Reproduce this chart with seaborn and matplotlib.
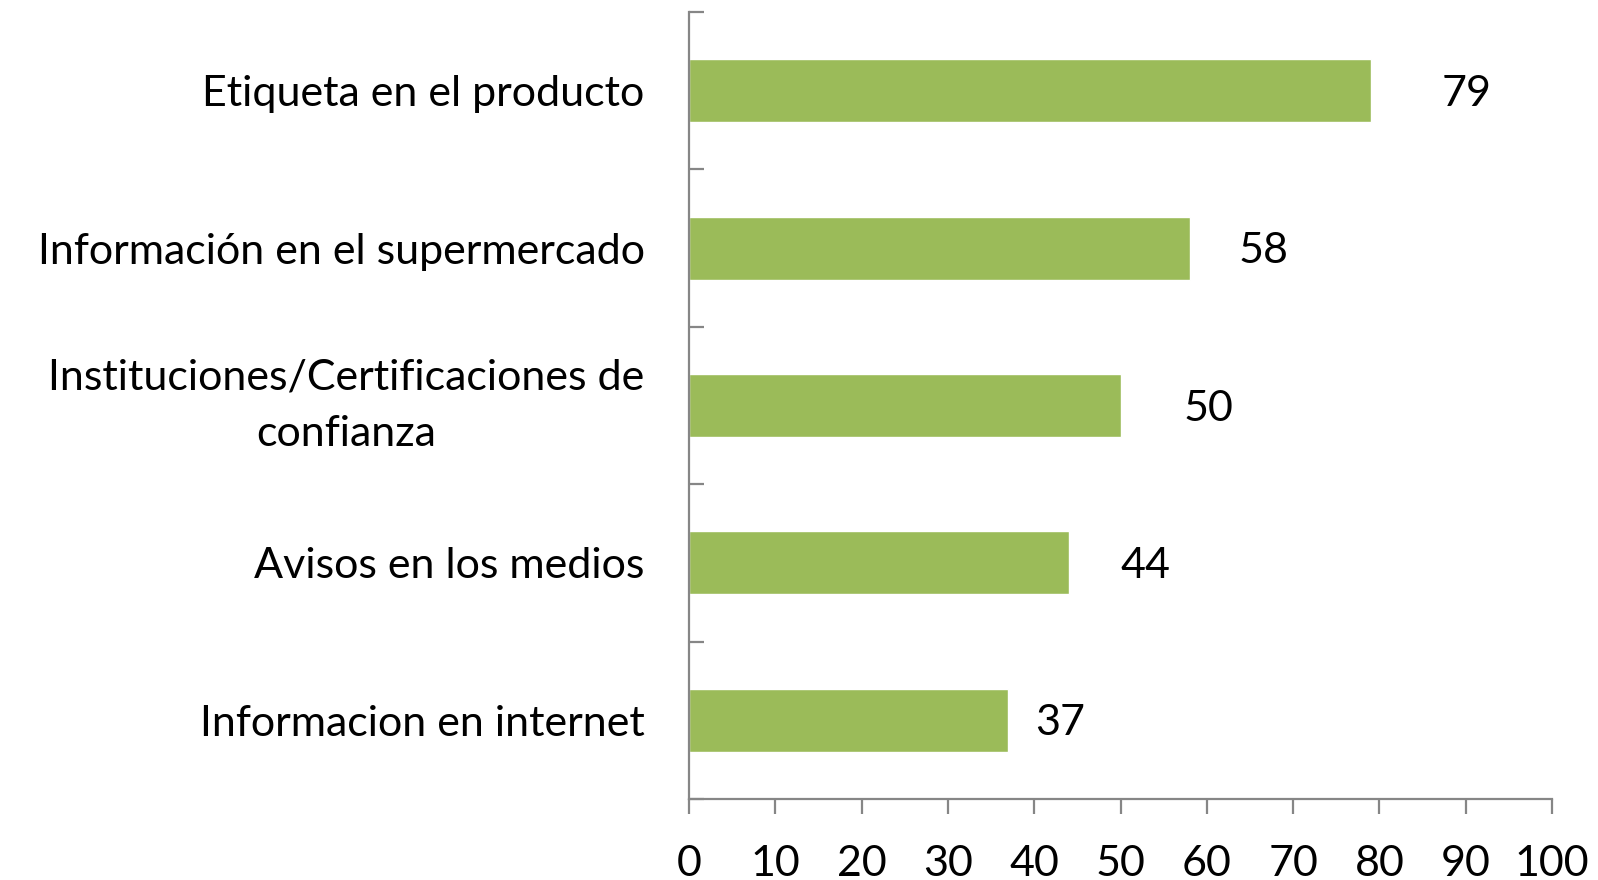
import matplotlib
matplotlib.use("Agg")
import matplotlib.pyplot as plt
import seaborn as sns
import pandas as pd
import numpy as np

categories = ["Etiqueta en el producto", "Información en el supermercado",
              "Instituciones/Certificaciones de\nconfianza", "Avisos en los medios",
              "Informacion en internet"]
values = [79, 58, 50, 44, 37]
label_offsets = [11.1, 8.6, 10.2, 8.9, 6.0]
xticks = [0, 10, 20, 30, 40, 50, 60, 70, 80, 90, 100]

sns.set_theme(style="white")
plt.rcParams['font.family'] = ['Lato', 'DejaVu Sans']
plt.rcParams['text.color'] = 'black'
plt.rcParams['xtick.color'] = 'black'
plt.rcParams['ytick.color'] = 'black'

fig = plt.figure(figsize=(15.98, 8.80), dpi=100)
ax = fig.add_axes([689/1598, 1-799/880, (1552-689)/1598, (799-12)/880])

df = pd.DataFrame({"cat": categories, "val": values})
sns.barplot(data=df, x="val", y="cat", orient="h", width=0.4, color="#9BBB59",
            saturation=1, ax=ax)

ax.set_xlim(0, 100)
ax.set_ylim(len(categories) - 0.5, -0.5)
ax.set_xlabel("")
ax.set_ylabel("")

for i, (v, off) in enumerate(zip(values, label_offsets)):
    ax.text(v + off, i + 0.02, str(v), ha="center", va="center", fontsize=31, color="black")

grey = "#868686"
for s in ["top", "right"]:
    ax.spines[s].set_visible(False)
for s in ["left", "bottom"]:
    ax.spines[s].set_color(grey)
    ax.spines[s].set_linewidth(1.6)

ax.set_xticks(xticks)
ax.set_xticklabels([str(t) for t in xticks], fontsize=31)
ax.tick_params(axis="x", direction="out", length=11, width=1.6, color=grey, pad=22,
               bottom=True, labelcolor="black")

ax.set_yticks(range(len(categories)))
ax.set_yticklabels(categories, fontsize=31, multialignment="center", linespacing=1.6)
for lab in ax.get_yticklabels():
    if "\n" in lab.get_text():
        lab.set_va("center")
ax.tick_params(axis="y", which="major", length=0, pad=32, labelcolor="black")
ax.set_yticks(np.arange(-0.5, len(categories), 1.0), minor=True)
ax.tick_params(axis="y", which="minor", direction="in", length=11, width=1.6,
               color=grey, left=True)

fig.savefig("out.png", dpi=100)
